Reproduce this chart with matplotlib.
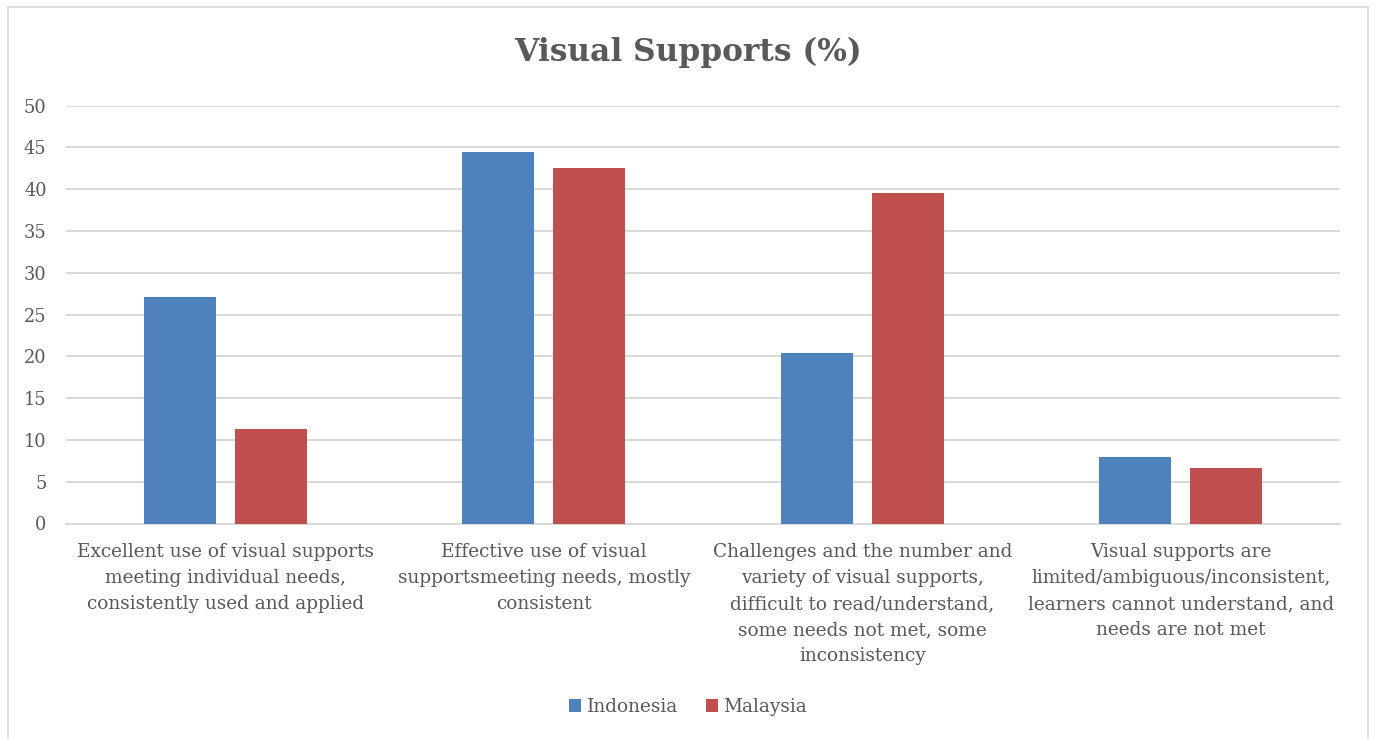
import matplotlib
matplotlib.use("Agg")
import matplotlib.pyplot as plt
from matplotlib.patches import Rectangle
import numpy as np

categories = [
    "Excellent use of visual supports\nmeeting individual needs,\nconsistently used and applied",
    "Effective use of visual\nsupportsmeeting needs, mostly\nconsistent",
    "Challenges and the number and\nvariety of visual supports,\ndifficult to read/understand,\nsome needs not met, some\ninconsistency",
    "Visual supports are\nlimited/ambiguous/inconsistent,\nlearners cannot understand, and\nneeds are not met",
]
indonesia = [27.1, 44.5, 20.4, 7.9]
malaysia = [11.3, 42.5, 39.6, 6.6]
series_names = ["Indonesia", "Malaysia"]
yticks = [0, 5, 10, 15, 20, 25, 30, 35, 40, 45, 50]

blue = "#4F81BD"
red = "#C0504D"
text_gray = "#595959"
grid_gray = "#D9D9D9"

plt.rcParams["font.family"] = ["DejaVu Serif"]

fig = plt.figure(figsize=(13.76, 7.39), dpi=100)
# chart frame (bottom edge runs past the canvas)
fig.patches.append(Rectangle((8 / 1376, -10 / 739), 1360 / 1376, 742 / 739,
                             transform=fig.transFigure, fill=False,
                             edgecolor="#D9D9D9", linewidth=1.2))

ax = fig.add_axes([66 / 1376, 1 - 523.5 / 739, 1274 / 1376, (523.5 - 105.7) / 739])
x = np.arange(len(categories))
w = 0.226
off = 0.143
ax.bar(x - off, indonesia, width=w, color=blue, label=series_names[0], zorder=3)
ax.bar(x + off, malaysia, width=w, color=red, label=series_names[1], zorder=3)

ax.set_xlim(-0.5, len(categories) - 0.5)
ax.set_ylim(0, 50)
ax.set_yticks(yticks)
ax.set_yticklabels([str(v) for v in yticks], fontsize=12.8, color=text_gray)
ax.set_xticks(x)
ax.set_xticklabels(categories, fontsize=13.3, color=text_gray, linespacing=1.58)
ax.tick_params(axis="both", length=0)
ax.tick_params(axis="y", pad=14)
ax.tick_params(axis="x", pad=14)
ax.grid(axis="y", color=grid_gray, linewidth=1.4, zorder=0)
for s in ["top", "right", "left"]:
    ax.spines[s].set_visible(False)
ax.spines["bottom"].set_color(grid_gray)
ax.spines["bottom"].set_linewidth(1.4)

fig.text(0.5, 1 - 52 / 739, "Visual Supports (%)", ha="center", va="center",
         fontsize=22.5, fontweight="bold", color=text_gray)

fig.legend(loc="center", bbox_to_anchor=(0.5, 1 - 707 / 739), ncol=2, frameon=False,
           fontsize=13.3, labelcolor=text_gray, handlelength=0.65, handleheight=0.65,
           handletextpad=0.3, columnspacing=1.5)

fig.savefig("out.png", dpi=100)
